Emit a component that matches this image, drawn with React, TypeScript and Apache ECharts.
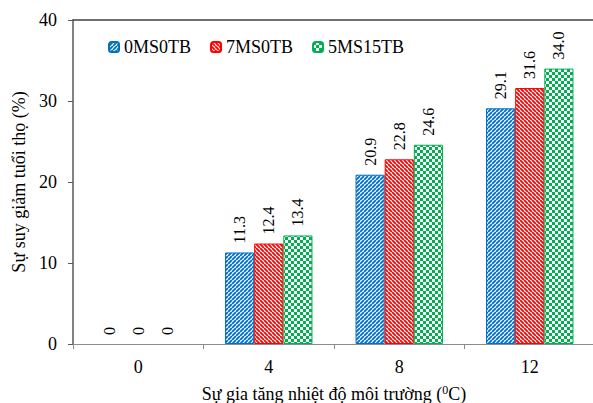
import React, { useEffect, useRef } from 'react';
import * as echarts from 'echarts';

const categories = ['0', '4', '8', '12'];
const seriesNames = ['0MS0TB', '7MS0TB', '5MS15TB'];
const values0MS0TB = [0, 11.3, 20.9, 29.1];
const values7MS0TB = [0, 12.4, 22.8, 31.6];
const values5MS15TB = [0, 13.4, 24.6, 34.0];
const yMin = 0;
const yMax = 40;
const yInterval = 10;
const yAxisTitle = 'Sự suy giảm tuổi thọ (%)';
const xAxisTitleMain = 'Sự gia tăng nhiệt độ môi trường (';
const xAxisTitleSup = '0';
const xAxisTitleEnd = 'C)';

const FONT = "'Liberation Serif', 'Times New Roman', serif";
const BLUE = '#0070C0';
const RED = '#FF0000';
const GREEN = '#00B050';

function makePattern(kind: 'fwd' | 'back' | 'check', color: string): any {
  const size = kind === 'check' ? 6 : 4;
  const c = document.createElement('canvas');
  c.width = size;
  c.height = size;
  const ctx = c.getContext('2d')!;
  ctx.fillStyle = '#ffffff';
  ctx.fillRect(0, 0, size, size);
  if (kind === 'check') {
    ctx.fillStyle = color;
    ctx.fillRect(0, 0, 3, 3);
    ctx.fillRect(3, 3, 3, 3);
  } else {
    ctx.strokeStyle = color;
    ctx.lineWidth = 1.9;
    ctx.beginPath();
    for (let k = -4; k <= 4; k += 4) {
      if (kind === 'fwd') {
        ctx.moveTo(k, 4);
        ctx.lineTo(k + 4, 0);
      } else {
        ctx.moveTo(k, 0);
        ctx.lineTo(k + 4, 4);
      }
    }
    ctx.stroke();
  }
  return { image: c, repeat: 'repeat', imageWidth: size, imageHeight: size };
}

export default function App() {
  const ref = useRef<HTMLDivElement>(null);
  useEffect(() => {
    if (!ref.current) return;
    const chart = echarts.init(ref.current, null, { renderer: 'svg' });
    const defs = [
      { name: seriesNames[0], values: values0MS0TB, color: BLUE, kind: 'fwd' as const },
      { name: seriesNames[1], values: values7MS0TB, color: RED, kind: 'back' as const },
      { name: seriesNames[2], values: values5MS15TB, color: GREEN, kind: 'check' as const },
    ];
    const series = defs.map((d) => ({
      name: d.name,
      type: 'bar',
      barGap: '0%',
      barCategoryGap: '33%',
      itemStyle: { color: makePattern(d.kind, d.color), borderColor: d.color, borderWidth: 1 },
      label: {
        show: true,
        position: 'top',
        distance: 9,
        rotate: 90,
        align: 'left',
        verticalAlign: 'middle',
        fontSize: 16,
        fontFamily: FONT,
        color: '#000',
        formatter: (p: any) => (p.value === 0 ? '0' : Number(p.value).toFixed(1)),
      },
      data: d.values.map((v) => (v === 0 ? { value: v, itemStyle: { borderWidth: 0 } } : { value: v })),
    }));
    chart.setOption({
      animation: false,
      backgroundColor: '#ffffff',
      textStyle: { fontFamily: FONT },
      legend: {
        left: 103,
        top: 33,
        itemWidth: 10,
        itemHeight: 10,
        itemGap: 19,
        textStyle: { fontFamily: FONT, fontSize: 18, color: '#000' },
        data: seriesNames,
      },
      grid: { left: 73, right: -2, top: 20, bottom: 59, containLabel: false, outerBoundsMode: 'none' },
      xAxis: [
        {
          type: 'category',
          data: categories,
          axisLine: { show: true, lineStyle: { color: '#8c8c8c', width: 1 } },
          axisTick: { show: true, length: 5, alignWithLabel: false, lineStyle: { color: '#8c8c8c' } },
          axisLabel: { fontFamily: FONT, fontSize: 18, color: '#000', margin: 14 },
          name: `{a|${xAxisTitleMain}}{s|${xAxisTitleSup}}{a|${xAxisTitleEnd}}`,
          nameLocation: 'middle',
          nameGap: 40,
          nameTextStyle: {
            fontFamily: FONT,
            fontSize: 18,
            color: '#000',
            rich: {
              a: { fontFamily: FONT, fontSize: 18, color: '#000', lineHeight: 20 },
              s: { fontFamily: FONT, fontSize: 12, color: '#000', lineHeight: 20, verticalAlign: 'top' },
            },
          },
        },
        {
          type: 'category',
          data: categories,
          position: 'top',
          axisLine: { show: true, lineStyle: { color: '#404040', width: 1.5 } },
          axisTick: { show: false },
          axisLabel: { show: false },
        },
      ],
      yAxis: {
        type: 'value',
        min: yMin,
        max: yMax,
        interval: yInterval,
        splitLine: { show: false },
        axisLine: { show: true, lineStyle: { color: '#595959', width: 1.5 } },
        axisTick: { show: true, length: 5, lineStyle: { color: '#595959' } },
        axisLabel: { fontFamily: FONT, fontSize: 18, color: '#000', margin: 16 },
        name: yAxisTitle,
        nameLocation: 'middle',
        nameGap: 36,
        nameTextStyle: { fontFamily: FONT, fontSize: 18, color: '#000' },
      },
      series,
    });
    return () => chart.dispose();
  }, []);
  return (
    <div
      ref={ref}
      style={{ position: 'absolute', left: 0, top: 0, width: 593, height: 403 }}
    />
  );
}
